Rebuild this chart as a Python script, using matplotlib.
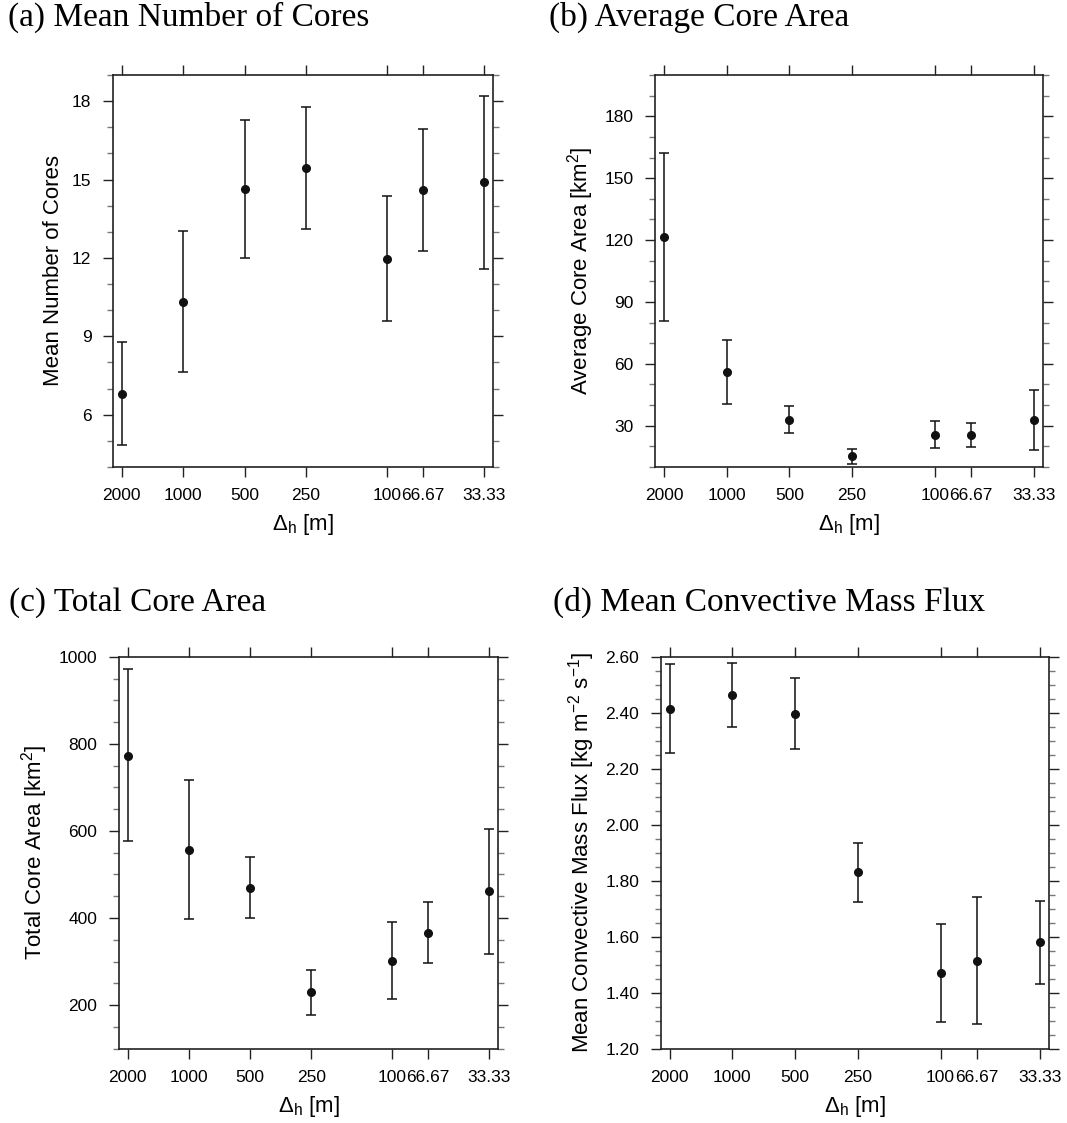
import matplotlib
matplotlib.use('Agg')
import matplotlib.pyplot as plt
from matplotlib.ticker import FixedLocator, MultipleLocator, NullLocator, FormatStrFormatter

plt.rcParams['font.family'] = ['Liberation Sans', 'DejaVu Sans']
plt.rcParams['mathtext.fontset'] = 'custom'
plt.rcParams['mathtext.rm'] = 'Liberation Sans'
plt.rcParams['mathtext.it'] = 'Liberation Sans:italic'

# horizontal grid spacing [m]
dh = [2000, 1000, 500, 250, 100, 66.67, 33.33]
dh_labels = ['2000', '1000', '500', '250', '100', '66.67', '33.33']

# (a) mean number of cores
n_mean = [6.80, 10.33, 14.62, 15.44, 11.96, 14.60, 14.89]
n_lo = [4.83, 7.63, 12.00, 13.10, 9.57, 12.25, 11.59]
n_hi = [8.78, 13.04, 17.26, 17.78, 14.37, 16.94, 18.20]

# (b) average core area [km2]
a_mean = [121.6, 56.1, 32.9, 15.2, 25.6, 25.6, 32.7]
a_lo = [80.8, 40.5, 26.3, 11.5, 19.0, 19.8, 18.4]
a_hi = [162.4, 71.5, 39.7, 18.7, 32.4, 31.1, 47.3]

# (c) total core area [km2]
t_mean = [773, 557, 470, 229, 302, 366, 462]
t_lo = [577, 398, 400, 178, 213, 296, 318]
t_hi = [971, 716, 541, 280, 391, 436, 605]

# (d) mean convective mass flux
m_mean = [2.413, 2.462, 2.396, 1.830, 1.469, 1.513, 1.580]
m_lo = [2.256, 2.348, 2.270, 1.725, 1.295, 1.288, 1.432]
m_hi = [2.573, 2.579, 2.524, 1.933, 1.644, 1.740, 1.729]


def panel(ax, mean, lo, hi, ylim, major, minor, ylabel, fmt=None):
    err = [[m - l for m, l in zip(mean, lo)], [h - m for m, h in zip(mean, hi)]]
    ax.errorbar(dh, mean, yerr=err, fmt='o', color='#111111', ms=5.5,
                elinewidth=1.1, capsize=3.5, capthick=1.1)
    ax.set_xscale('log')
    ax.set_xlim(2211, 30.15)
    ax.xaxis.set_major_locator(FixedLocator(dh))
    ax.xaxis.set_minor_locator(NullLocator())
    ax.set_xticklabels(dh_labels)
    ax.set_ylim(*ylim)
    ax.yaxis.set_major_locator(MultipleLocator(major))
    ax.yaxis.set_minor_locator(MultipleLocator(minor))
    if fmt:
        ax.yaxis.set_major_formatter(FormatStrFormatter(fmt))
    ax.tick_params(which='both', direction='out', top=True, right=True,
                   labelsize=12.5, width=1.0, color='#222222')
    ax.tick_params(which='major', length=7.5, pad=8)
    ax.tick_params(which='minor', length=4, color='#777777')
    for s in ax.spines.values():
        s.set_linewidth(1.2)
        s.set_color('#222222')
    ax.set_xlabel(r'$\Delta_\mathrm{h}$ [m]', fontsize=16, labelpad=6)
    ax.set_ylabel(ylabel, fontsize=16, labelpad=6)


fig = plt.figure(figsize=(10.67, 11.23), dpi=100)
ax_a = fig.add_axes([0.1059, 0.5842, 0.3561, 0.349])
ax_b = fig.add_axes([0.6139, 0.5842, 0.3636, 0.349])
ax_c = fig.add_axes([0.1115, 0.0662, 0.3552, 0.349])
ax_d = fig.add_axes([0.6192, 0.0662, 0.3639, 0.349])

panel(ax_a, n_mean, n_lo, n_hi, (4, 19), 3, 1, 'Mean Number of Cores')
panel(ax_b, a_mean, a_lo, a_hi, (10, 200), 30, 10, r'Average Core Area [km$^2$]')
panel(ax_c, t_mean, t_lo, t_hi, (100, 1000), 200, 50, r'Total Core Area [km$^2$]')
panel(ax_d, m_mean, m_lo, m_hi, (1.2, 2.6), 0.2, 0.05,
      r'Mean Convective Mass Flux [kg m$^{-2}$ s$^{-1}$]', fmt='%.2f')

tfont = dict(family=['Liberation Serif', 'DejaVu Serif'], fontsize=24, va='baseline')
fig.text(8 / 1067, 1 - 26 / 1123, '(a) Mean Number of Cores', **tfont)
fig.text(549 / 1067, 1 - 26 / 1123, '(b) Average Core Area', **tfont)
fig.text(9 / 1067, 1 - 611 / 1123, '(c) Total Core Area', **tfont)
fig.text(553 / 1067, 1 - 611 / 1123, '(d) Mean Convective Mass Flux', **tfont)

fig.savefig('out.png', dpi=100)
